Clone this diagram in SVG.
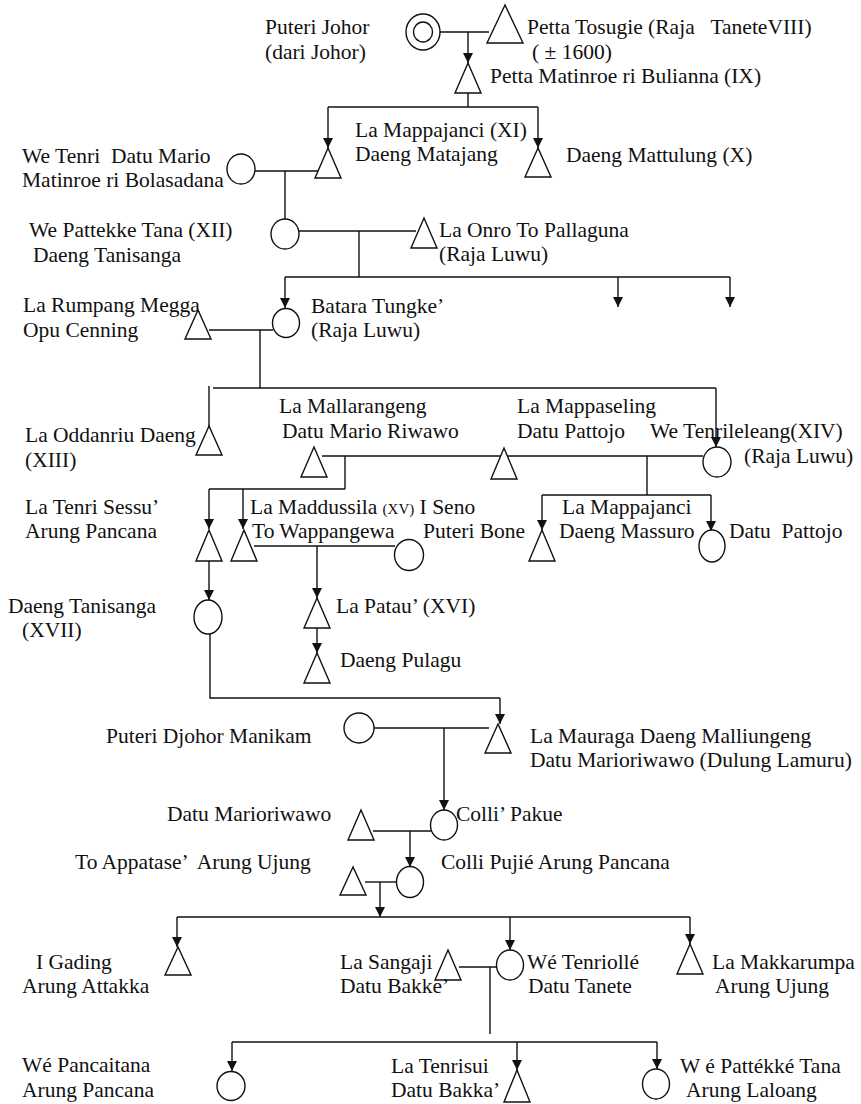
<svg xmlns="http://www.w3.org/2000/svg" width="861" height="1104" viewBox="0 0 861 1104">
<style>
text{font-family:"Liberation Serif","Times New Roman",serif;font-size:21.5px;fill:#111;white-space:pre}
.s{fill:#fff;stroke:#111;stroke-width:1.4}
.c line,.c polyline{stroke:#111;stroke-width:1.4;fill:none}
.a{marker-end:url(#ah)}
</style>
<defs>
<marker id="ah" markerUnits="userSpaceOnUse" markerWidth="10" markerHeight="11" refX="10" refY="5" orient="auto" viewBox="0 0 10 10">
<path d="M0,0 L10,5 L0,10 z" fill="#111"/>
</marker>
</defs>
<rect width="861" height="1104" fill="#fff"/>
<g class="c" id="connectors">
<line x1="440" y1="32" x2="489" y2="32"/>
<line class="a" x1="468" y1="32" x2="468" y2="63"/>
<line x1="468" y1="93" x2="468" y2="107"/>
<polyline points="328,107 538,107"/>
<line class="a" x1="328" y1="107" x2="328" y2="148"/>
<line class="a" x1="538" y1="107" x2="538" y2="148"/>
<line x1="255" y1="171" x2="319" y2="171"/>
<line x1="285" y1="171" x2="285" y2="220"/>
<line x1="299" y1="231" x2="416" y2="231"/>
<line x1="359" y1="231" x2="359" y2="277"/>
<line x1="285" y1="277" x2="730" y2="277"/>
<line class="a" x1="285" y1="277" x2="285" y2="308"/>
<line class="a" x1="618" y1="277" x2="618" y2="307"/>
<line class="a" x1="730" y1="277" x2="730" y2="307"/>
<line x1="209" y1="330" x2="273" y2="330"/>
<line x1="260" y1="330" x2="260" y2="388"/>
<line x1="213" y1="388" x2="716" y2="388"/>
<line x1="209" y1="386" x2="209" y2="427"/>
<line class="a" x1="716" y1="388" x2="716" y2="447"/>
<line x1="322" y1="456" x2="703" y2="456"/>
<line x1="345" y1="456" x2="345" y2="489"/>
<line x1="209" y1="489" x2="345" y2="489"/>
<line class="a" x1="209" y1="489" x2="209" y2="529"/>
<line class="a" x1="243" y1="489" x2="243" y2="529"/>
<line x1="647" y1="456" x2="647" y2="495"/>
<line x1="542" y1="495" x2="711" y2="495"/>
<line class="a" x1="542" y1="495" x2="542" y2="530"/>
<line class="a" x1="711" y1="495" x2="711" y2="531"/>
<line x1="254" y1="546" x2="395" y2="546"/>
<line class="a" x1="317" y1="546" x2="317" y2="598"/>
<line class="a" x1="317" y1="628" x2="317" y2="653"/>
<line class="a" x1="209" y1="561" x2="209" y2="600"/>
<polyline points="210,634 210,698 500,698"/>
<line class="a" x1="500" y1="698" x2="500" y2="724"/>
<line x1="374" y1="728" x2="489" y2="728"/>
<line class="a" x1="444" y1="728" x2="444" y2="810"/>
<line x1="373" y1="831" x2="431" y2="831"/>
<line class="a" x1="410" y1="831" x2="410" y2="867"/>
<line x1="365" y1="882" x2="397" y2="882"/>
<line class="a" x1="380" y1="882" x2="380" y2="917"/>
<line x1="177" y1="917" x2="690" y2="917"/>
<line class="a" x1="177" y1="917" x2="177" y2="947"/>
<line class="a" x1="510" y1="917" x2="510" y2="950"/>
<line class="a" x1="690" y1="917" x2="690" y2="944"/>
<line x1="459" y1="967" x2="497" y2="967"/>
<line x1="490" y1="967" x2="490" y2="1034"/>
<line x1="232" y1="1042" x2="657" y2="1042"/>
<line class="a" x1="232" y1="1042" x2="232" y2="1071"/>
<line class="a" x1="517" y1="1042" x2="517" y2="1070"/>
<line class="a" x1="657" y1="1042" x2="657" y2="1069"/>
</g>
<g id="puteri-johor">
<ellipse class="s" cx="423" cy="32" rx="17" ry="18"/>
<ellipse class="s" cx="423" cy="32" rx="9.5" ry="10"/>
<text x="265" y="34">Puteri Johor</text>
<text x="265" y="59">(dari Johor)</text>
</g>
<g id="petta-tosugie">
<polygon class="s" points="505,5 487,43 523,43"/>
<text x="527" y="34">Petta Tosugie (Raja   TaneteVIII)</text>
<text x="532" y="59">( ± 1600)</text>
</g>
<g id="petta-matinroe">
<polygon class="s" points="468,63 455,93 481,93"/>
<text x="490" y="83">Petta Matinroe ri Bulianna (IX)</text>
</g>
<g id="la-mappajanci-xi">
<polygon class="s" points="328,148 315,178 341,178"/>
<text x="355" y="137">La Mappajanci (XI)</text>
<text x="355" y="161">Daeng Matajang</text>
</g>
<g id="daeng-mattulung">
<polygon class="s" points="538,148 525,177 551,177"/>
<text x="566" y="162">Daeng Mattulung (X)</text>
</g>
<g id="we-tenri">
<ellipse class="s" cx="241" cy="169" rx="14" ry="15"/>
<text x="22" y="163">We Tenri  Datu Mario</text>
<text x="22" y="187">Matinroe ri Bolasadana</text>
</g>
<g id="we-pattekke">
<ellipse class="s" cx="285" cy="234" rx="14" ry="15"/>
<text x="29" y="237">We Pattekke Tana (XII)</text>
<text x="33" y="262">Daeng Tanisanga</text>
</g>
<g id="la-onro">
<polygon class="s" points="424,218 411,248 437,248"/>
<text x="439" y="237">La Onro To Pallaguna</text>
<text x="439" y="261">(Raja Luwu)</text>
</g>
<g id="batara-tungke">
<ellipse class="s" cx="286" cy="323" rx="13.5" ry="14.5"/>
<text x="311" y="313">Batara Tungke’</text>
<text x="311" y="337">(Raja Luwu)</text>
</g>
<g id="la-rumpang">
<polygon class="s" points="198,310 185,339 211,339"/>
<text x="23" y="312">La Rumpang Megga</text>
<text x="23" y="337">Opu Cenning</text>
</g>
<g id="la-oddanriu">
<polygon class="s" points="209,426 196,455 222,455"/>
<text x="25" y="442">La Oddanriu Daeng</text>
<text x="25" y="467">(XIII)</text>
</g>
<g id="la-mallarangeng">
<polygon class="s" points="314,447 301,477 327,477"/>
<text x="279" y="413">La Mallarangeng</text>
<text x="282" y="438">Datu Mario Riwawo</text>
</g>
<g id="la-mappaseling">
<polygon class="s" points="504,448 491,479 517,479"/>
<text x="517" y="413">La Mappaseling</text>
<text x="517" y="438">Datu Pattojo</text>
</g>
<g id="we-tenrileleang">
<ellipse class="s" cx="717" cy="462" rx="14" ry="15"/>
<text x="650" y="438">We Tenrileleang(XIV)</text>
<text x="744" y="463">(Raja Luwu)</text>
</g>
<g id="la-tenri-sessu">
<polygon class="s" points="209,530 196,561 222,561"/>
<text x="25" y="514">La Tenri Sessu’</text>
<text x="25" y="538">Arung Pancana</text>
</g>
<g id="la-maddussila">
<polygon class="s" points="244,530 231,561 257,561"/>
<text x="250" y="514">La Maddussila <tspan font-size="15">(XV)</tspan> I Seno</text>
<text x="252" y="538">To Wappangewa</text>
</g>
<g id="puteri-bone">
<ellipse class="s" cx="409" cy="555" rx="14.5" ry="15.5"/>
<text x="423" y="538">Puteri Bone</text>
</g>
<g id="la-mappajanci-massuro">
<polygon class="s" points="542,530 529,561 555,561"/>
<text x="562" y="514">La Mappajanci</text>
<text x="559" y="538">Daeng Massuro</text>
</g>
<g id="datu-pattojo">
<ellipse class="s" cx="712" cy="546" rx="13" ry="16"/>
<text x="729" y="538">Datu  Pattojo</text>
</g>
<g id="la-patau">
<polygon class="s" points="317,598 304,628 330,628"/>
<text x="336" y="613">La Patau’ (XVI)</text>
</g>
<g id="daeng-pulagu">
<polygon class="s" points="317,653 304,683 330,683"/>
<text x="340" y="667">Daeng Pulagu</text>
</g>
<g id="daeng-tanisanga">
<ellipse class="s" cx="208" cy="617" rx="14" ry="17"/>
<text x="8" y="613">Daeng Tanisanga</text>
<text x="22" y="637">(XVII)</text>
</g>
<g id="puteri-djohor">
<ellipse class="s" cx="359" cy="728" rx="15" ry="15"/>
<text x="106" y="743">Puteri Djohor Manikam</text>
</g>
<g id="la-mauraga">
<polygon class="s" points="498,724 485,753 511,753"/>
<text x="530" y="743">La Mauraga Daeng Malliungeng</text>
<text x="530" y="767">Datu Marioriwawo (Dulung Lamuru)</text>
</g>
<g id="datu-marioriwawo">
<polygon class="s" points="361,810 348,840 374,840"/>
<text x="167" y="821">Datu Marioriwawo</text>
</g>
<g id="colli-pakue">
<ellipse class="s" cx="444" cy="825" rx="13.5" ry="15"/>
<text x="456" y="821">Colli’ Pakue</text>
</g>
<g id="to-appatase">
<polygon class="s" points="353,867 340,895 366,895"/>
<text x="75" y="869">To Appatase’  Arung Ujung</text>
</g>
<g id="colli-pujie">
<ellipse class="s" cx="410" cy="882" rx="13.5" ry="15.5"/>
<text x="441" y="869">Colli Pujié Arung Pancana</text>
</g>
<g id="i-gading">
<polygon class="s" points="178,947 165,975 191,975"/>
<text x="36" y="969">I Gading</text>
<text x="22" y="993">Arung Attakka</text>
</g>
<g id="la-sangaji">
<polygon class="s" points="448,950 435,980 461,980"/>
<text x="340" y="969">La Sangaji</text>
<text x="340" y="993">Datu Bakke’</text>
</g>
<g id="we-tenriolle">
<ellipse class="s" cx="510" cy="965" rx="13.5" ry="15"/>
<text x="527" y="969">Wé Tenriollé</text>
<text x="528" y="993">Datu Tanete</text>
</g>
<g id="la-makkarumpa">
<polygon class="s" points="690,944 677,974 703,974"/>
<text x="712" y="969">La Makkarumpa</text>
<text x="715" y="993">Arung Ujung</text>
</g>
<g id="we-pancaitana">
<ellipse class="s" cx="231" cy="1086" rx="14" ry="14.5"/>
<text x="22" y="1072">Wé Pancaitana</text>
<text x="22" y="1097">Arung Pancana</text>
</g>
<g id="la-tenrisui">
<polygon class="s" points="517,1070 504,1102 530,1102"/>
<text x="391" y="1073">La Tenrisui</text>
<text x="391" y="1097">Datu Bakka’</text>
</g>
<g id="we-pattekke-tana">
<ellipse class="s" cx="656" cy="1084" rx="13.5" ry="15"/>
<text x="680" y="1073">W é Pattékké Tana</text>
<text x="686" y="1097">Arung Laloang</text>
</g>
</svg>
